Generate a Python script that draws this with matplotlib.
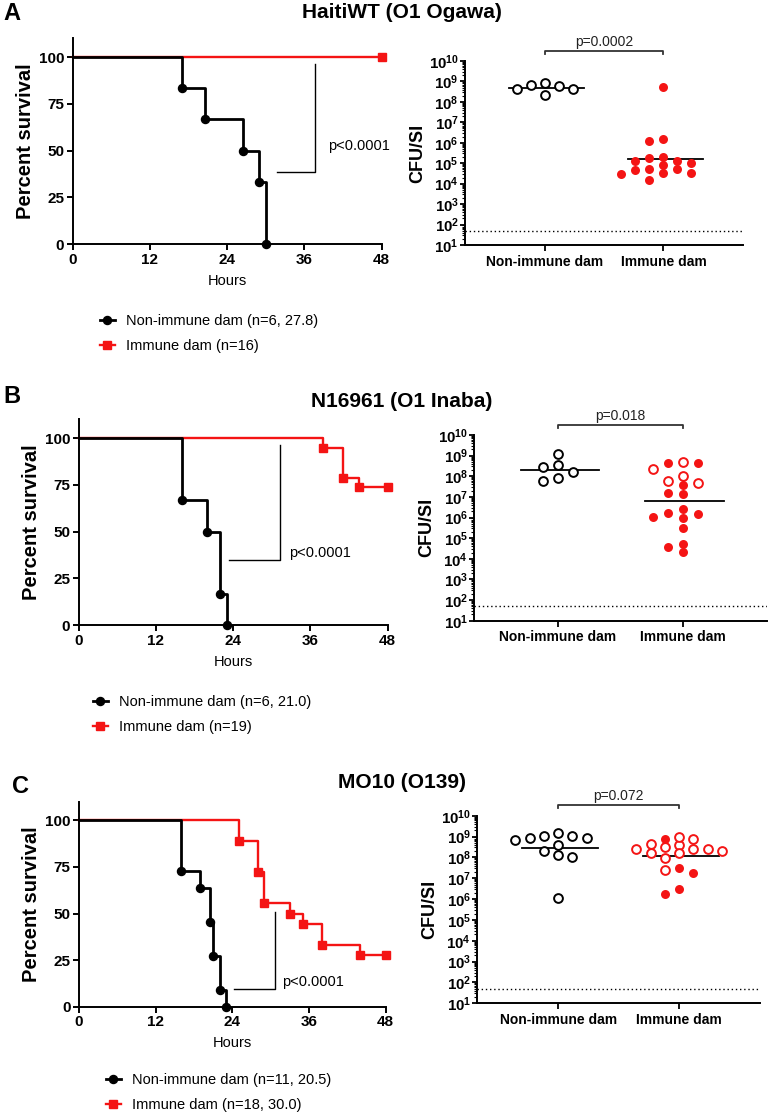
import numpy as np
import matplotlib
matplotlib.use("Agg")
import matplotlib.pyplot as plt
from matplotlib.lines import Line2D
from matplotlib.ticker import LogLocator, FixedLocator, NullFormatter

plt.rcParams['font.family'] = ['Liberation Sans', 'DejaVu Sans']
plt.rcParams['mathtext.fontset'] = 'custom'
plt.rcParams['mathtext.rm'] = 'Liberation Sans'
plt.rcParams['mathtext.bf'] = 'Liberation Sans:bold'

RED = '#f41414'
W, H = 768, 1119

# ---- survival data: event time (h) and percent surviving after it ----
a_non_t = [17, 20.5, 26.5, 29, 30]
a_non_s = [83.3, 66.7, 50, 33.3, 0]
a_imm_t = [48]
a_imm_s = [100]

b_non_t = [16, 20, 22, 23]
b_non_s = [66.7, 50, 16.7, 0]
b_imm_t = [38, 41, 43.5, 48]
b_imm_s = [94.7, 78.9, 73.7, 73.7]

c_non_t = [16, 19, 20.5, 21, 22, 23]
c_non_s = [72.7, 63.6, 45.5, 27.3, 9.1, 0]
c_imm_t = [25, 28, 29, 33, 35, 38, 44, 48]
c_imm_s = [88.9, 72.2, 55.6, 50, 44.4, 33.3, 27.8, 27.8]

# ---- colonisation data: log10 CFU per small intestine ----
a_non_log = [8.91, 8.79, 8.33, 8.63, 8.61, 8.81]
a_imm_filled = [8.73, 6.09, 6.19, 5.13, 5.13, 5.26, 5.31, 4.74, 4.74,
                4.92, 5.03, 4.66, 4.53, 4.45, 4.51, 4.17]
a_imm_open = []

b_non_log = [9.06, 8.53, 8.46, 8.20, 7.75, 7.93]
b_imm_filled = [8.64, 8.64, 7.56, 7.12, 7.18, 6.42, 5.99, 6.20, 6.05,
                6.15, 5.47, 4.74, 4.55, 4.34]
b_imm_open = [8.69, 8.33, 8.02, 7.66, 7.75]

c_non_log = [9.04, 8.95, 8.59, 8.91, 9.01, 8.85, 9.17, 8.00, 8.10, 8.32, 6.07]
c_imm_filled = [8.87, 7.24, 7.48, 6.24, 6.48]
c_imm_open = [8.48, 8.58, 8.20, 8.42, 8.63, 8.23, 8.87, 8.32, 8.99,
              8.42, 7.99, 8.39, 7.41]

titles = ['HaitiWT (O1 Ogawa)', 'N16961 (O1 Inaba)', 'MO10 (O139)']
letters = ['A', 'B', 'C']
non_labels = ['Non-immune dam (n=6, 27.8)', 'Non-immune dam (n=6, 21.0)',
              'Non-immune dam (n=11, 20.5)']
imm_labels = ['Immune dam (n=16)', 'Immune dam (n=19)', 'Immune dam (n=18, 30.0)']
cfu_p = ['p=0.0002', 'p=0.018', 'p=0.072']
groups = ['Non-immune dam', 'Immune dam']


def fbox(l, t, r, b):
    # pixel box -> figure fraction
    return [l / W, 1 - b / H, (r - l) / W, (b - t) / H]


def swarm(vals, slot, thr):
    vals = np.asarray(vals)
    off = np.zeros(len(vals))
    placed = []
    for i in np.argsort(-vals, kind='stable'):
        for k in [0, -1, 1, -2, 2, -3, 3, -4, 4, -5, 5]:
            if all(not (kk == k and abs(v - vals[i]) < thr) for kk, v in placed):
                break
        placed.append((k, vals[i]))
        off[i] = k * slot
    return off


def survival(ax, non_t, non_s, imm_t, imm_s, brk, ptxt):
    ax.step([0] + imm_t, [100] + imm_s, where='post', color=RED, lw=1.7,
            clip_on=False, zorder=2)
    ax.plot(imm_t, imm_s, 's', color=RED, ms=5.2, clip_on=False, zorder=3)
    ax.step([0] + non_t, [100] + non_s, where='post', color='black', lw=2.0,
            clip_on=False, zorder=4)
    ax.plot(non_t, non_s, 'o', color='black', ms=5.8, clip_on=False, zorder=5)
    x0, x1, y0, y1 = brk
    ax.plot([x0, x1, x1], [y0, y0, y1], color='black', lw=1.0)
    ax.text(ptxt[0], ptxt[1], 'p<0.0001', fontsize=10.5, va='center')
    ax.set_xlim(0, 48)
    ax.set_ylim(0, 110)
    ax.set_xticks([0, 12, 24, 36, 48])
    ax.set_yticks([0, 25, 50, 75, 100])
    for s in ['top', 'right']:
        ax.spines[s].set_visible(False)
    for s in ['left', 'bottom']:
        ax.spines[s].set_linewidth(1.4)
    ax.tick_params(direction='out', length=4, width=1.4, labelsize=11, pad=2)
    for lab in ax.get_xticklabels() + ax.get_yticklabels():
        lab.set_fontweight('bold')
    ax.set_xlabel('Hours', fontsize=10.5, labelpad=5)
    ax.set_ylabel('Percent survival', fontsize=14.5, fontweight='bold', labelpad=3)


def colonisation(ax, non, imm_f, imm_o, ptxt):
    imm = list(imm_f) + list(imm_o)
    xo_n = swarm(non, 0.118, 0.38)
    xo_i = swarm(imm, 0.118, 0.38)
    nf = len(imm_f)
    ax.scatter(0 + xo_n, 10 ** np.array(non), s=40, facecolors='white',
               edgecolors='black', linewidths=1.4, zorder=3, clip_on=False)
    ax.scatter(1 + xo_i[:nf], 10 ** np.array(imm[:nf]), s=42, color=RED,
               linewidths=0, zorder=3, clip_on=False)
    if len(imm_o):
        ax.scatter(1 + xo_i[nf:], 10 ** np.array(imm[nf:]), s=40,
                   facecolors='white', edgecolors=RED, linewidths=1.4,
                   zorder=3, clip_on=False)
    # geometric mean lines
    for xc, v in [(0, non), (1, imm)]:
        gm = 10 ** np.mean(v)
        ax.plot([xc - 0.3, xc + 0.33], [gm, gm], color='black', lw=1.3, zorder=2)
    # detection limit
    ax.axhline(50, color='black', lw=1.0, ls=(0, (1, 2)))
    # significance bracket
    ax.plot([0, 0, 1, 1], [10 ** 10.36, 10 ** 10.5, 10 ** 10.5, 10 ** 10.36],
            color='#333333', lw=1.3, clip_on=False)
    ax.text(0.5, 10 ** 10.6, ptxt, ha='center', va='bottom', fontsize=10,
            color='#222222')
    ax.set_yscale('log')
    ax.set_ylim(10, 1e10)
    ax.set_xlim(-0.67, 1.67)
    ax.yaxis.set_major_locator(FixedLocator([10.0 ** k for k in range(1, 11)]))
    ax.set_yticklabels([r'$\mathbf{10^{%d}}$' % k for k in range(1, 11)])
    ax.yaxis.set_minor_locator(LogLocator(base=10, subs=np.arange(2, 10), numticks=20))
    ax.yaxis.set_minor_formatter(NullFormatter())
    ax.set_xticks([0, 1])
    ax.set_xticklabels(groups, fontweight='bold', fontsize=10)
    for s in ['top', 'right']:
        ax.spines[s].set_visible(False)
    for s in ['left', 'bottom']:
        ax.spines[s].set_linewidth(1.4)
    ax.tick_params(axis='y', which='major', direction='out', length=3.5,
                   width=1.3, labelsize=10.8, pad=1)
    ax.tick_params(axis='y', which='minor', direction='out', length=2, width=0.8)
    ax.tick_params(axis='x', direction='out', length=4, width=1.3, pad=3)
    ax.set_ylabel('CFU/SI', fontsize=13, fontweight='bold', labelpad=2)


fig = plt.figure(figsize=(W / 100, H / 100), dpi=100)

surv_boxes = [(72.7, 38.3, 381.7, 244.3), (78.7, 419.3, 387.7, 625.3),
              (79, 801.7, 385.7, 1006.7)]
cfu_boxes = [(465, 61, 743, 245), (474.3, 435, 766.7, 620.7),
             (477.3, 815.7, 760, 1003.3)]
brackets = [(31.7, 37.6, 38.4, 96.5), (23.4, 31.2, 34.9, 96.4),
            (24.3, 30.7, 9.7, 50.8)]
ptexts = [(39.7, 52.3), (32.7, 38.8), (31.7, 13.1)]
title_y = [18.3, 406.7, 788]
letter_xy = [(3, 20.5), (3, 403), (12, 793)]
legend_xy = [(100, 314), (93, 695), (106, 1073)]

surv = [(a_non_t, a_non_s, a_imm_t, a_imm_s),
        (b_non_t, b_non_s, b_imm_t, b_imm_s),
        (c_non_t, c_non_s, c_imm_t, c_imm_s)]
cfu = [(a_non_log, a_imm_filled, a_imm_open),
       (b_non_log, b_imm_filled, b_imm_open),
       (c_non_log, c_imm_filled, c_imm_open)]

for i in range(3):
    ax1 = fig.add_axes(fbox(*surv_boxes[i]))
    survival(ax1, *surv[i], brackets[i], ptexts[i])
    ax2 = fig.add_axes(fbox(*cfu_boxes[i]))
    colonisation(ax2, *cfu[i], cfu_p[i])

    fig.text(402 / W, 1 - title_y[i] / H, titles[i], ha='center',
             va='baseline', fontsize=15, fontweight='bold')
    fig.text(letter_xy[i][0] / W, 1 - letter_xy[i][1] / H, letters[i],
             va='baseline', fontsize=17, fontweight='bold')

    handles = [Line2D([], [], color='black', lw=2.0, marker='o', ms=5.8),
               Line2D([], [], color=RED, lw=1.7, marker='s', ms=5.2)]
    fig.legend(handles, [non_labels[i], imm_labels[i]], loc='upper left',
               bbox_to_anchor=(legend_xy[i][0] / W, 1 - legend_xy[i][1] / H),
               frameon=False, fontsize=10.5, handlelength=1.0,
               handletextpad=0.8, labelspacing=0.75, borderpad=0,
               borderaxespad=0)

fig.savefig('out.png', dpi=100)
